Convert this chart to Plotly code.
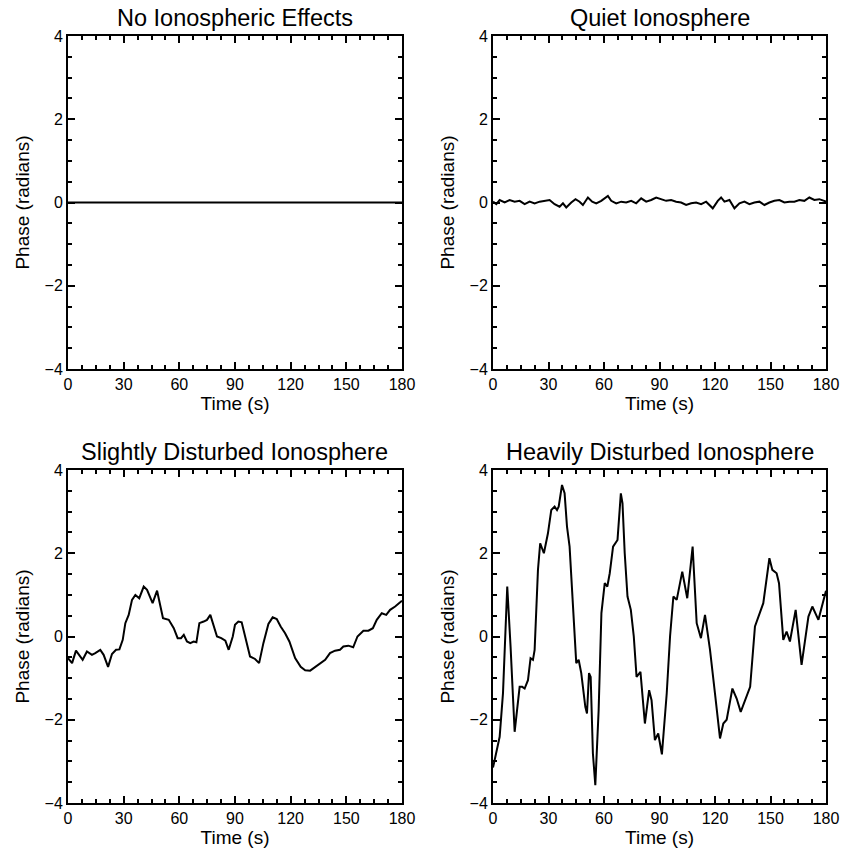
import plotly.graph_objects as go

# ---------------- data ----------------
titles = ["No Ionospheric Effects", "Quiet Ionosphere",
          "Slightly Disturbed Ionosphere", "Heavily Disturbed Ionosphere"]

none_t = [0, 180]
none_v = [0, 0]

quiet_t = [0.0, 1.8, 3.6, 6.3, 9.0, 11.7, 14.4, 17.1, 19.8, 22.5, 25.2, 27.9, 30.6, 33.3,
           36.0, 37.8, 39.6, 42.3, 44.6, 46.8, 48.6, 51.3, 53.6, 55.8, 58.5, 62.1, 63.9,
           66.6, 69.3, 72.0, 74.7, 77.4, 80.1, 82.8, 85.5, 88.2, 90.9, 93.6, 96.3, 99.0,
           101.7, 104.4, 107.1, 109.8, 112.5, 115.2, 118.8, 121.5, 123.3, 125.1, 127.8,
           130.5, 133.2, 135.9, 138.6, 141.3, 144.0, 146.7, 149.4, 152.1, 154.8, 157.5,
           160.2, 162.9, 165.6, 168.3, 171.0, 173.7, 176.4, 178.2, 180.0]
quiet_v = [0.02, -0.04, 0.06, 0.0, 0.06, 0.02, 0.04, -0.04, 0.02, -0.02, 0.02, 0.04, 0.06, -0.04,
           -0.10, -0.02, -0.12, 0.0, 0.08, 0.02, -0.06, 0.12, 0.02, -0.02, 0.04, 0.16, 0.04,
           -0.02, 0.02, 0.0, 0.04, -0.02, 0.10, 0.02, 0.06, 0.12, 0.08, 0.04, 0.06, 0.02,
           0.0, -0.06, -0.02, 0.0, -0.04, 0.02, -0.14, 0.04, 0.12, 0.02, 0.06,
           -0.14, -0.02, 0.02, -0.04, 0.0, 0.02, -0.06, 0.0, 0.04, 0.06, 0.0,
           0.02, 0.02, 0.06, 0.04, 0.12, 0.06, 0.08, 0.04, 0.02]

slight_t = [0.0, 2.2, 4.3, 7.9, 10.2, 12.9, 14.7, 17.4, 19.2, 21.6, 23.7, 25.9, 27.7, 29.5,
            30.9, 32.7, 34.5, 36.3, 38.4, 40.8, 42.6, 45.6, 48.0, 51.2, 54.3, 57.0, 59.1,
            60.9, 62.4, 64.1, 65.9, 67.7, 69.2, 70.8, 73.1, 74.9, 76.7, 80.3, 82.6, 84.8,
            86.6, 88.8, 90.0, 91.8, 93.6, 95.4, 98.1, 100.8, 103.0, 105.3, 108.0, 110.3,
            112.5, 114.6, 117.0, 119.3, 122.4, 125.4, 127.8, 130.5, 133.2, 135.6, 138.6,
            141.2, 143.9, 146.6, 148.4, 151.1, 153.7, 156.0, 159.2, 161.9, 164.3, 166.4,
            169.1, 171.5, 173.6, 176.3, 180.0]
slight_v = [-0.52, -0.64, -0.34, -0.56, -0.36, -0.44, -0.40, -0.32, -0.44, -0.73, -0.42, -0.32, -0.31, -0.08,
            0.32, 0.52, 0.88, 1.00, 0.92, 1.20, 1.12, 0.80, 1.10, 0.44, 0.40, 0.20, -0.04,
            -0.04, 0.04, -0.12, -0.16, -0.12, -0.14, 0.32, 0.36, 0.40, 0.52, 0.0, -0.04, -0.10,
            -0.32, 0.0, 0.28, 0.36, 0.34, 0.0, -0.48, -0.54, -0.64, -0.16, 0.30, 0.46,
            0.42, 0.24, 0.08, -0.12, -0.52, -0.73, -0.81, -0.82, -0.73, -0.67, -0.56,
            -0.40, -0.34, -0.32, -0.24, -0.22, -0.26, 0.0, 0.14, 0.14, 0.20, 0.40,
            0.56, 0.52, 0.64, 0.72, 0.86]

heavy_t = [0.0, 3.6, 5.4, 7.7, 9.5, 11.7, 14.4, 15.8, 17.1, 18.9, 20.3, 21.6, 22.5, 24.3,
           25.5, 27.5, 29.7, 31.5, 33.3, 34.6, 35.5, 37.3, 38.7, 40.0, 41.4, 43.2, 45.0,
           46.3, 47.7, 49.9, 50.8, 51.9, 52.8, 54.0, 55.3, 57.1, 58.6, 60.4, 61.8, 63.1,
           64.9, 67.3, 69.1, 70.0, 71.2, 72.7, 74.5, 76.1, 77.6, 79.7, 82.1, 84.4, 85.7,
           87.5, 89.3, 91.3, 93.9, 95.7, 97.5, 99.3, 102.3, 105.0, 107.9, 110.1, 112.4,
           114.6, 117.3, 120.0, 122.7, 124.5, 126.3, 129.4, 131.7, 133.9, 136.6, 139.0,
           141.6, 144.3, 146.1, 149.4, 151.0, 153.3, 154.6, 156.9, 158.7, 160.5, 163.6,
           166.8, 170.5, 172.6, 175.9, 180.0]
heavy_v = [-3.15, -2.41, -1.36, 1.20, -0.25, -2.29, -1.21, -1.21, -1.25, -1.05, -0.52, -0.56, -0.32, 1.60,
           2.24, 2.00, 2.48, 3.04, 3.12, 3.04, 3.12, 3.64, 3.44, 2.64, 2.16, 0.80, -0.64,
           -0.56, -0.88, -1.69, -1.85, -0.88, -0.97, -2.81, -3.57, -1.77, 0.56, 1.28, 1.20, 1.52,
           2.16, 2.32, 3.44, 3.20, 2.00, 0.96, 0.64, 0.0, -0.97, -0.85, -2.09, -1.29, -1.53,
           -2.49, -2.33, -2.83, -1.37, 0.0, 0.96, 0.88, 1.56, 0.92, 2.16, 0.32, -0.04,
           0.52, -0.32, -1.37, -2.45, -2.09, -2.00, -1.25, -1.49, -1.81, -1.49, -1.21,
           0.24, 0.56, 0.80, 1.88, 1.60, 1.52, 1.28, -0.08, 0.12, -0.12, 0.64,
           -0.68, 0.48, 0.72, 0.40, 1.10]

x_ticks = [0, 30, 60, 90, 120, 150, 180]
y_ticks = [-4, -2, 0, 2, 4]

series = [(none_t, none_v), (quiet_t, quiet_v), (slight_t, slight_v), (heavy_t, heavy_v)]

# ---------------- layout ----------------
W, H = 848, 854
xdoms = [(68 / W, 402 / W), (493 / W, 826 / W)]
ydoms = [(1 - 369 / H, 1 - 36 / H), (1 - 803 / H, 1 - 470 / H)]
FONT = "Liberation Sans, Arial, sans-serif"

fig = go.Figure()
layout = dict(width=W, height=H, margin=dict(l=0, r=0, t=0, b=0, autoexpand=False),
              paper_bgcolor="white", plot_bgcolor="white", showlegend=False,
              font=dict(family=FONT, color="black", size=16))
annotations = []
for i, (t, v) in enumerate(series):
    row, col = divmod(i, 2)
    sfx = "" if i == 0 else str(i + 1)
    fig.add_trace(go.Scatter(x=t, y=v, mode="lines", xaxis="x" + sfx, yaxis="y" + sfx,
                             line=dict(color="black", width=2), hoverinfo="skip"))
    common = dict(showline=True, linecolor="black", linewidth=2, mirror="allticks",
                  ticks="inside", ticklen=7, tickwidth=1.5, tickcolor="black",
                  showgrid=False, zeroline=False, automargin=False,
                  tickfont=dict(family=FONT, size=16, color="black"))
    layout["xaxis" + sfx] = dict(common, domain=xdoms[col], range=[0, 180],
                                 anchor="y" + sfx, tickvals=x_ticks,
                                 ticktext=[str(x) for x in x_ticks],
                                 minor=dict(dtick=7.5, tick0=0, ticklen=4, ticks="inside",
                                            tickcolor="black", tickwidth=1.5),
                                 title=dict(text="Time (s)", standoff=3,
                                            font=dict(family=FONT, size=19)))
    layout["yaxis" + sfx] = dict(common, domain=ydoms[row], range=[-4, 4],
                                 anchor="x" + sfx, tickvals=y_ticks,
                                 ticktext=["\u2212" + str(-y) if y < 0 else str(y) for y in y_ticks],
                                 minor=dict(dtick=0.5, tick0=0, ticklen=4, ticks="inside",
                                            tickcolor="black", tickwidth=1.5),
                                 title=dict(text="Phase (radians)", standoff=10,
                                            font=dict(family=FONT, size=19)))
    annotations.append(dict(text=titles[i], xref="paper", yref="paper",
                            x=(xdoms[col][0] + xdoms[col][1]) / 2,
                            y=ydoms[row][1] + 18 / H, xanchor="center", yanchor="middle",
                            showarrow=False, font=dict(family=FONT, size=23.5, color="black")))
layout["annotations"] = annotations
fig.update_layout(**layout)
fig.write_html("out.html", config={"displayModeBar": False},
               post_script="document.body.style.margin='0';document.body.style.overflow='hidden';")
